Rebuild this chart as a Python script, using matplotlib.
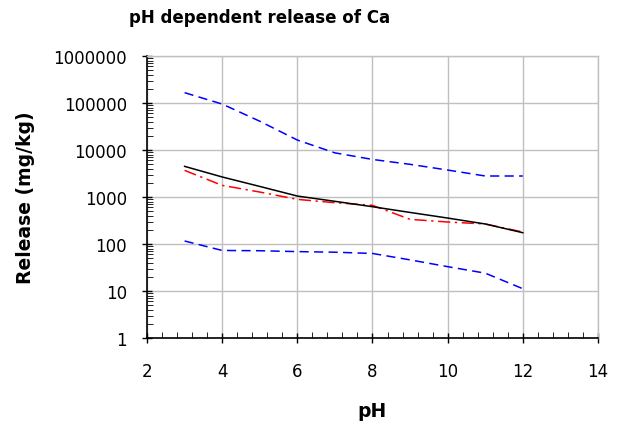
import matplotlib
matplotlib.use('Agg')
from matplotlib import pyplot as plt
from matplotlib.ticker import LogLocator, MultipleLocator, NullFormatter, FixedLocator
import numpy as np

# pH values of the leaching test
ph = [3, 4, 5, 6, 7, 8, 9, 10, 11, 12]

# upper / lower envelope (blue dashed), measured (black), model (red dash-dot)
upper = [166000, 95000, 41000, 16300, 8700, 6300, 4960, 3750, 2800, 2800]
measured = [4490, 2670, 1680, 1050, 810, 622, 470, 357, 267, 174]
modelled = [3690, 1770, 1276, 891, 757, 665, 335, 294, 267, 180]
lower = [116, 73, 72, 69, 67, 63, 46, 33, 24, 11.2]

fig = plt.figure(figsize=(6.19, 4.27), dpi=100)
ax = fig.add_axes([0.2375, 0.206, 0.7285, 0.6605])

ax.plot(ph, upper, color='#0000ff', ls=(0, (6, 3.5)), lw=1.1)
ax.plot(ph, lower, color='#0000ff', ls=(0, (6, 3.5)), lw=1.1)
ax.plot(ph, modelled, color='#ff0000', ls=(0, (8, 3, 1.5, 3)), lw=1.1)
ax.plot(ph, measured, color='black', lw=1.1)

ax.set_yscale('log')
ax.set_ylim(1, 1e6)
ax.set_xlim(2, 14)
ax.set_xticks(np.arange(2, 15, 2))
ax.xaxis.set_minor_locator(MultipleLocator(0.4))
ax.yaxis.set_major_locator(FixedLocator([10.0**k for k in range(7)]))
ax.yaxis.set_minor_locator(LogLocator(base=10, subs=np.arange(2, 10)))
ax.yaxis.set_minor_formatter(NullFormatter())
ax.set_yticklabels(['1', '10', '100', '1000', '10000', '100000', '1000000'])

ax.grid(True, which='major', color='#c0c0c0', lw=1.0)
ax.set_axisbelow(True)
ax.tick_params(which='major', direction='inout', length=7, width=1, labelsize=12, pad=11)
ax.tick_params(axis='x', which='major', pad=14)
ax.tick_params(axis='x', which='minor', direction='in', length=4)
ax.tick_params(axis='y', which='minor', direction='in', length=4)
for s in ['top', 'right']:
    ax.spines[s].set_color('#c0c0c0')
    ax.spines[s].set_linewidth(1.0)
for s in ['left', 'bottom']:
    ax.spines[s].set_linewidth(1.2)

ax.set_xlabel('pH', fontsize=13.5, fontweight='bold', labelpad=15)
ax.set_ylabel('Release (mg/kg)', fontsize=13.5, fontweight='bold', labelpad=13)
fig.text(0.42, 0.957, 'pH dependent release of Ca', fontsize=12, fontweight='bold',
         ha='center', va='center')

fig.savefig('out.png', dpi=100)
